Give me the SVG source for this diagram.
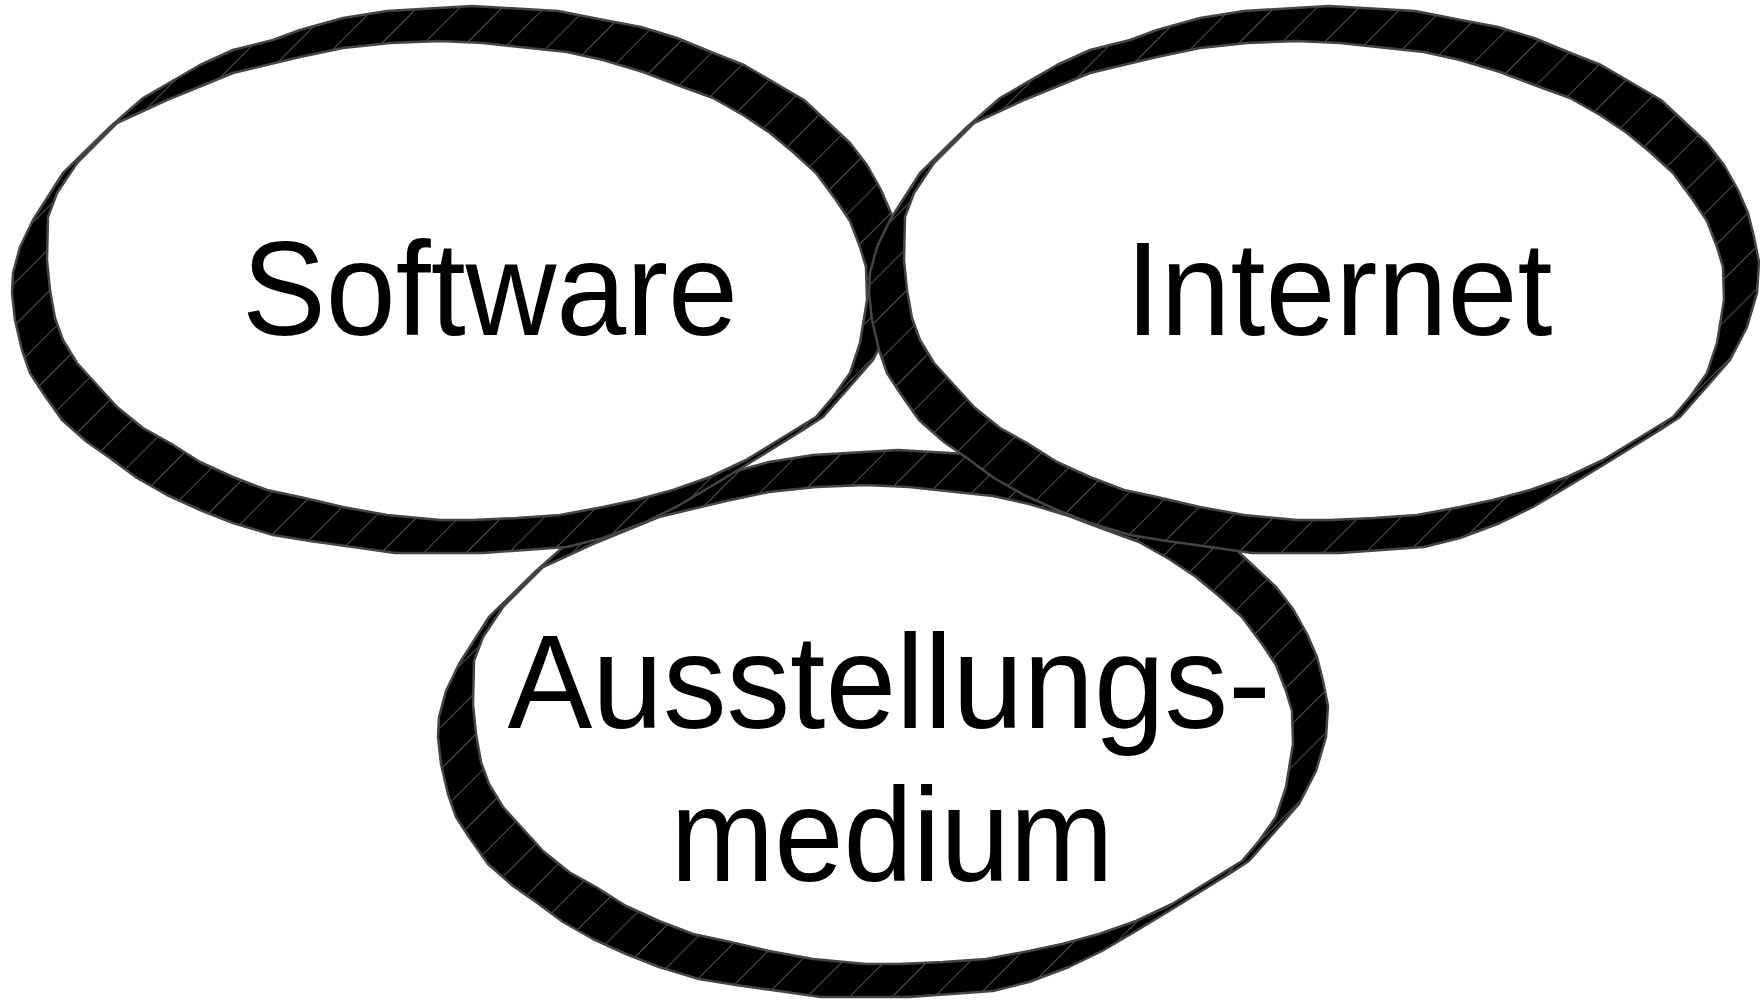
<svg xmlns="http://www.w3.org/2000/svg" width="1760" height="1005" viewBox="0 0 1760 1005">
<style>
.outer{fill:url(#hatch);stroke:#454545;stroke-width:2.5;stroke-linejoin:round}
.inner{fill:#fff;stroke:#454545;stroke-width:2.5;stroke-linejoin:round}
.lbl{font-family:"Liberation Sans",Arial,sans-serif;font-size:133px;fill:#000;text-anchor:middle}
</style>
<defs>
<pattern id="hatch" patternUnits="userSpaceOnUse" width="30" height="30" patternTransform="rotate(45)">
<rect width="30" height="30" fill="#000"/>
<line x1="0.5" y1="0" x2="0.5" y2="30" stroke="#6a6a6a" stroke-width="0.8"/>
</pattern>
<g id="ring">
<polygon class="outer" points="472,6 558,11 604,20 641,27 677,38 711,52 744,65 804,100 850,143 867,165 881,190 891,213 897,237 902,262 900,293 890,327 873,360 853,383 823,417 803,430 743,467 710,487 676,507 643,523 603,538 567,547 483,553 395,553 353,547 310,541 273,535 233,523 200,510 167,495 137,478 110,458 87,442 62,420 43,393 30,373 22,350 15,320 12,293 13,273 20,247 33,220 63,173 110,127 143,98 200,65 233,50 273,40 300,30 343,18 387,11"/>
<polygon class="inner" points="440,41 483,43 567,52 603,60 643,72 680,86 713,98 743,115 770,133 793,152 816,173 836,200 850,221 860,247 866,267 867,300 860,343 850,373 833,397 816,417 790,433 746,460 710,477 673,490 636,500 603,507 560,515 517,518 473,520 440,520 387,515 343,507 300,497 267,490 233,477 200,462 170,443 143,428 117,407 97,385 77,363 63,340 55,318 50,290 47,260 48,217 57,193 77,163 117,123 167,100 233,73 300,57 343,48 390,43"/>
</g>
</defs>
<g id="connectors"/>
<g id="node-ausstellungsmedium">
<use href="#ring" transform="translate(426,444)"/>
<text class="lbl" x="889" y="728" textLength="763" lengthAdjust="spacingAndGlyphs">Ausstellungs-</text>
<text class="lbl" x="892" y="881" textLength="443" lengthAdjust="spacingAndGlyphs">medium</text>
</g>
<g id="node-software">
<use href="#ring"/>
<text class="lbl" x="490" y="335" textLength="496" lengthAdjust="spacingAndGlyphs">Software</text>
</g>
<g id="node-internet">
<use href="#ring" transform="translate(857,0)"/>
<text class="lbl" x="1339" y="335" textLength="427" lengthAdjust="spacingAndGlyphs">Internet</text>
</g>
</svg>
